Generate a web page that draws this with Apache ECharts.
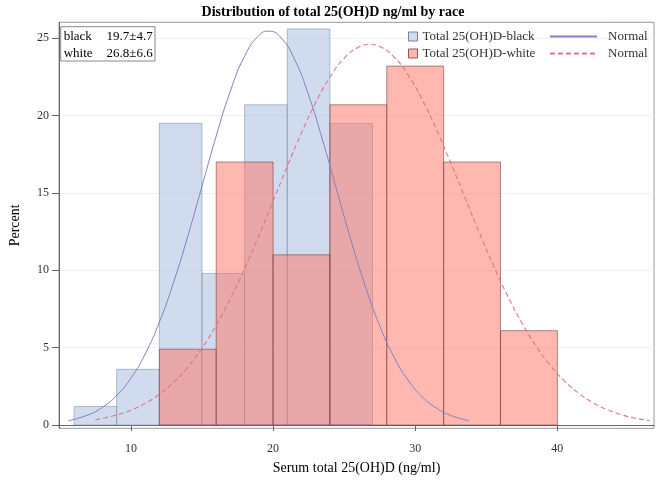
<!DOCTYPE html>
<html>
<head>
<meta charset="utf-8">
<script src="https://cdn.jsdelivr.net/npm/echarts@6/dist/echarts.min.js"></script>
<style>html,body{margin:0;padding:0;background:#fff}#c{width:656px;height:485px}</style>
</head>
<body>
<div id="c"></div>
<script>
// Histogram bins: [start, end] and percent values
const blackBinStart = [6, 9, 12, 15, 18, 21, 24];
const blackBinEnd   = [9, 12, 15, 18, 21, 24, 27];
const blackPercent  = [1.2, 3.6, 19.5, 9.8, 20.7, 25.6, 19.5];

const whiteBinStart = [12, 16, 20, 24, 28, 32, 36];
const whiteBinEnd   = [16, 20, 24, 28, 32, 36, 40];
const whitePercent  = [4.9, 17.0, 11.0, 20.7, 23.2, 17.0, 6.1];

// Normal curves
const blackCurveX = [5.6, 7, 8, 9, 10, 11, 12, 13, 14, 15, 16, 17, 18, 19, 19.7, 20.5, 21.5, 22.5, 23.5, 24.5, 25.5, 26.5, 27.5, 28.5, 29.5, 30.5, 31.5, 32.5, 33.8];
const blackCurveY = [0.28, 0.66, 1.15, 1.91, 3.03, 4.59, 6.65, 9.22, 12.2, 15.44, 18.68, 21.59, 23.85, 25.18, 25.46, 25.09, 23.66, 21.32, 18.36, 15.12, 11.89, 8.94, 6.42, 4.41, 2.9, 1.82, 1.09, 0.62, 0.28];

const whiteCurveX = [7.5, 9, 10, 11, 12, 13, 14, 15, 16, 17, 18, 19, 20, 21, 22, 23, 24, 25, 26, 26.8, 27.5, 28.5, 29.5, 30.5, 31.5, 32.5, 33.5, 34.5, 35.5, 36.5, 37.5, 38.5, 39.5, 40.5, 41.5, 42.5, 43.5, 44.5, 45.5, 46.5];
const whiteCurveY = [0.34, 0.65, 0.96, 1.4, 1.99, 2.76, 3.75, 4.97, 6.45, 8.17, 10.11, 12.24, 14.47, 16.72, 18.88, 20.84, 22.48, 23.7, 24.42, 24.6, 24.46, 23.8, 22.62, 21.02, 19.09, 16.94, 14.7, 12.45, 10.32, 8.35, 6.61, 5.11, 3.86, 2.85, 2.06, 1.45, 1.0, 0.67, 0.44, 0.29];

const xTicks = [10, 20, 30, 40];
const yTicks = [0, 5, 10, 15, 20, 25];

const statsRows = [['black', '19.7±4.7'], ['white', '26.8±6.6']];

const FONT = 'Liberation Serif';

function bins(s, e, v) { return s.map((x, i) => [x, e[i], v[i]]); }
function pts(xs, ys) { return xs.map((x, i) => [x, ys[i]]); }

function histItem(fill, stroke) {
  return function (params, api) {
    const p1 = api.coord([api.value(0), api.value(2)]);
    const p2 = api.coord([api.value(1), 0]);
    return {
      type: 'rect',
      shape: { x: p1[0], y: p1[1], width: p2[0] - p1[0], height: p2[1] - p1[1] },
      style: { fill: fill, stroke: stroke, lineWidth: 1 }
    };
  };
}

const blueFill = 'rgba(161,185,221,0.5)';
const blueStroke = 'rgba(120,132,155,0.5)';
const redFill = 'rgba(255,113,97,0.5)';
const redStroke = 'rgba(110,55,55,0.55)';
const blueLine = '#8082c2';
const redLine = '#e27486';

const chart = echarts.init(document.getElementById('c'), null, { renderer: 'canvas' });

const legendBase = {
  orient: 'horizontal',
  selectedMode: false,
  textStyle: { fontFamily: FONT, fontSize: 13, color: '#333' }
};

const insetFont = '13px "Liberation Serif"';

chart.setOption({
  animation: false,
  backgroundColor: '#fff',
  title: {
    text: 'Distribution of total 25(OH)D ng/ml by race',
    left: 328, top: 0, textAlign: 'center',
    textStyle: { fontFamily: FONT, fontSize: 14, fontWeight: 'bold', color: '#000' }
  },
  grid: { left: 56, right: 2, top: 22.3, bottom: 56.7, show: true, borderColor: '#999', borderWidth: 1, containLabel: false },
  xAxis: {
    type: 'value', min: 4.94, max: 46.8,
    name: 'Serum total 25(OH)D (ng/ml)', nameLocation: 'middle', nameGap: 33,
    nameTextStyle: { fontFamily: FONT, fontSize: 14, color: '#000' },
    axisLine: { show: true, lineStyle: { color: '#666' } },
    axisTick: { show: true, length: 6, customValues: xTicks, lineStyle: { color: '#666' } },
    axisLabel: { customValues: xTicks, margin: 15, fontFamily: FONT, fontSize: 12, color: '#333' },
    splitLine: { show: false }
  },
  yAxis: {
    type: 'value', min: -0.21, max: 26.03,
    name: 'Percent', nameLocation: 'middle', nameGap: 37,
    nameTextStyle: { fontFamily: FONT, fontSize: 14, color: '#000' },
    axisLine: { show: true, lineStyle: { color: '#666' } },
    axisTick: { show: true, length: 7, customValues: yTicks, lineStyle: { color: '#666' } },
    axisLabel: { customValues: yTicks, margin: 10, fontFamily: FONT, fontSize: 12, color: '#333' },
    splitLine: { show: true, lineStyle: { color: '#f0f0f0', width: 1 } }
  },
  legend: [
    Object.assign({}, legendBase, { left: 403, top: 25, itemWidth: 9, itemHeight: 9,
      data: [{ name: 'Total 25(OH)D-black', icon: 'rect', itemStyle: { color: 'rgba(208,220,238,1)', borderColor: '#7a8499', borderWidth: 1 } }] }),
    Object.assign({}, legendBase, { left: 544, top: 25, itemWidth: 47, itemHeight: 9,
      textStyle: Object.assign({}, legendBase.textStyle, { padding: [0, 0, 0, 6] }),
      formatter: () => 'Normal', data: [{ name: 'Normal-black', itemStyle: { opacity: 0 } }] }),
    Object.assign({}, legendBase, { left: 403, top: 42, itemWidth: 9, itemHeight: 9,
      data: [{ name: 'Total 25(OH)D-white', icon: 'rect', itemStyle: { color: 'rgba(255,184,176,1)', borderColor: '#8a5a5a', borderWidth: 1 } }] }),
    Object.assign({}, legendBase, { left: 544, top: 42, itemWidth: 47, itemHeight: 9,
      textStyle: Object.assign({}, legendBase.textStyle, { padding: [0, 0, 0, 6] }),
      formatter: () => 'Normal', data: [{ name: 'Normal-white', itemStyle: { opacity: 0 } }] })
  ],
  graphic: [
    { type: 'rect', z: 50, x: 60.7, y: 26.7, shape: { x: 0, y: 0, width: 94.3, height: 34.3 }, style: { fill: '#fff', stroke: '#888', lineWidth: 1 } },
    { type: 'text', z: 51, x: 63.7, y: 36.7, style: { text: statsRows[0][0], font: insetFont, fill: '#000', verticalAlign: 'middle' } },
    { type: 'text', z: 51, x: 152.7, y: 36.7, style: { text: statsRows[0][1], font: insetFont, fill: '#000', align: 'right', verticalAlign: 'middle' } },
    { type: 'text', z: 51, x: 63.7, y: 53.7, style: { text: statsRows[1][0], font: insetFont, fill: '#000', verticalAlign: 'middle' } },
    { type: 'text', z: 51, x: 152.7, y: 53.7, style: { text: statsRows[1][1], font: insetFont, fill: '#000', align: 'right', verticalAlign: 'middle' } }
  ],
  series: [
    {
      name: 'Total 25(OH)D-black', type: 'custom',
      itemStyle: { color: 'rgba(208,220,238,1)' },
      renderItem: histItem(blueFill, blueStroke),
      encode: { x: [0, 1], y: 2 },
      data: bins(blackBinStart, blackBinEnd, blackPercent), z: 1
    },
    {
      name: 'Total 25(OH)D-white', type: 'custom',
      itemStyle: { color: 'rgba(255,184,176,1)' },
      renderItem: histItem(redFill, redStroke),
      encode: { x: [0, 1], y: 2 },
      data: bins(whiteBinStart, whiteBinEnd, whitePercent), z: 2
    },
    {
      name: 'Normal-black', type: 'line', smooth: true, symbol: 'none', z: 3,
      itemStyle: { color: blueLine },
      lineStyle: { color: blueLine, width: 1 },
      data: pts(blackCurveX, blackCurveY)
    },
    {
      name: 'Normal-white', type: 'line', smooth: true, symbol: 'none', z: 3,
      itemStyle: { color: redLine },
      lineStyle: { color: redLine, width: 1.1, type: [5, 3] },
      data: pts(whiteCurveX, whiteCurveY)
    }
  ]
});
</script>
</body>
</html>
